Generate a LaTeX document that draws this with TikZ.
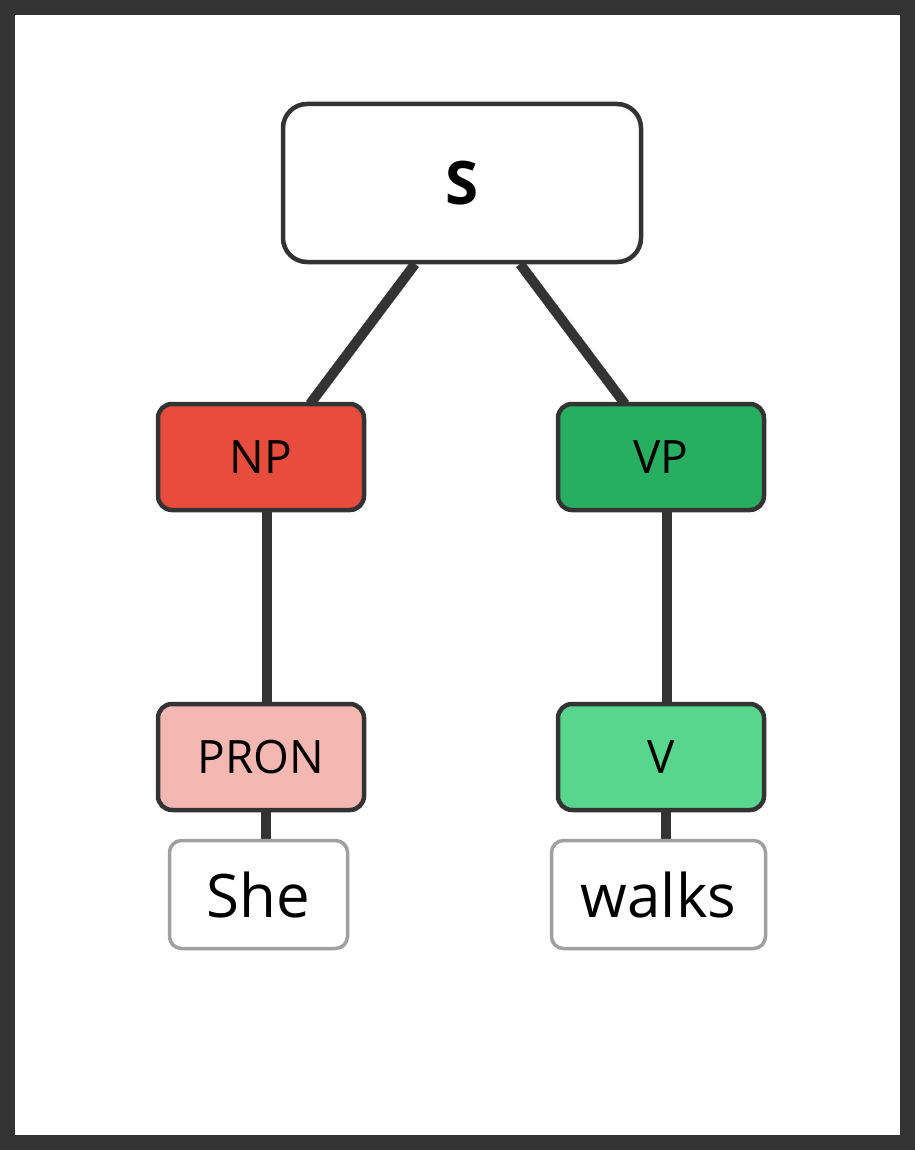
\documentclass[tikz,border=0pt]{standalone}
\usepackage{fontspec}
\setmainfont{Open Sans}
\begin{document}
\begin{tikzpicture}[x=1pt,y=-1pt,
  box/.style={draw=dk,line width=4.5pt,rounded corners=14pt,inner sep=0pt,font=\fontsize{46}{50}\selectfont,text=black},
  leaf/.style={draw=gy,line width=3.5pt,fill=white,rounded corners=12pt,inner sep=0pt,font=\fontsize{60}{64}\selectfont,text=black},
  edge/.style={draw=dk,line width=10pt}]
\definecolor{dk}{HTML}{333333}
\definecolor{gy}{HTML}{A0A0A0}
\definecolor{npc}{HTML}{E74C3C}
\definecolor{vpc}{HTML}{27AE60}
\definecolor{pronc}{HTML}{F5B7B1}
\definecolor{vc}{HTML}{58D68D}
\fill[dk] (0,0) rectangle (915,1150);
\fill[white] (15,15) rectangle (900,1135);
\useasboundingbox (0,0) rectangle (915,1150);
\path[edge] (415,264) -- (310,404);
\path[edge] (520,264) -- (625,404);
\path[edge] (267,512) -- (267,702);
\path[edge] (667,512) -- (667,702);
\path[edge] (266,812) -- (266,839);
\path[edge] (666,812) -- (666,839);
\node[box,fill=white,rounded corners=24pt,minimum width=358pt,minimum height=158pt,font=\bfseries\fontsize{60}{64}\selectfont] (S) at (462,183) {S};
\node[box,fill=npc,minimum width=206pt,minimum height=106pt] (NP) at (261,457) {NP};
\node[box,fill=vpc,minimum width=206pt,minimum height=106pt] (VP) at (661,457) {VP};
\node[box,fill=pronc,minimum width=206pt,minimum height=106pt] (PRON) at (261,757) {PRON};
\node[box,fill=vc,minimum width=206pt,minimum height=106pt] (V) at (661,757) {V};
\node[leaf,minimum width=178pt,minimum height=108pt] (She) at (258.5,894.5) {She};
\node[leaf,minimum width=214pt,minimum height=108pt] (walks) at (658.5,894.5) {walks};
\end{tikzpicture}
\end{document}
